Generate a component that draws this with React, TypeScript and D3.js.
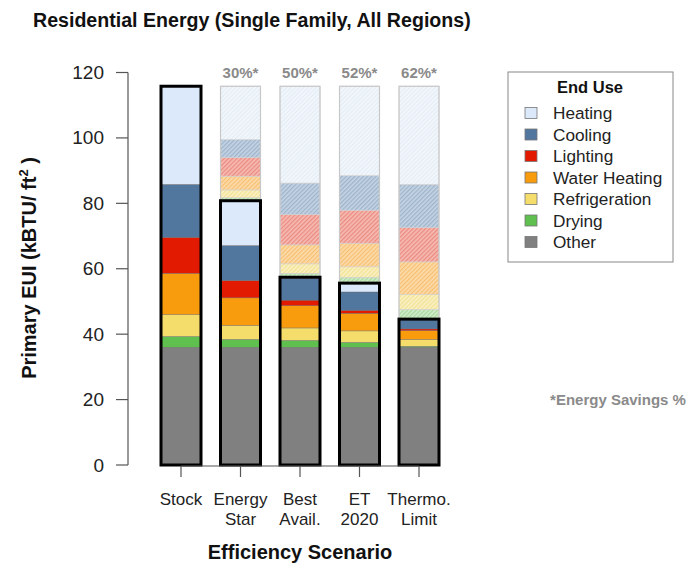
import React from 'react';
import * as d3 from 'd3';

// end-use categories, top of the stack first (legend order)
const categories = ['Heating', 'Cooling', 'Lighting', 'Water Heating', 'Refrigeration', 'Drying', 'Other'];
const solidColors = ['#dbe9fb', '#52779f', '#e31a02', '#f89c0e', '#f5dd6b', '#5fbf4f', '#808080'];
const ghostBg = ['#f4f8fc', '#c6d4e3', '#f5bdb5', '#fcdcae', '#faf1c6', '#d3ecce', '#cccccc'];
const ghostStripe = ['#e3ecf5', '#9db4cc', '#ec8a7f', '#f8c070', '#f2e293', '#a6d89b', '#aaaaaa'];

const scenarios = ['Stock', 'Energy Star', 'Best Avail.', 'ET 2020', 'Thermo. Limit'];
const scenarioLines = [['Stock'], ['Energy', 'Star'], ['Best', 'Avail.'], ['ET', '2020'], ['Thermo.', 'Limit']];

// kBTU/ft2 per scenario
const heating = [30, 13.7, 0.4, 2.7, 0];
const cooling = [16.2, 10.7, 6.6, 5.6, 3.0];
const lighting = [11, 5.3, 1.7, 0.9, 0.5];
const waterHeating = [12.6, 8.4, 6.8, 5.4, 2.7];
const refrigeration = [6.7, 4.3, 3.8, 3.5, 2.1];
const drying = [3.3, 2.4, 2.1, 1.5, 0.3];
const other = [36, 36, 36, 36, 36];

const savingsLabels = ['', '30%*', '50%*', '52%*', '62%*'];
const yTicks = [0, 20, 40, 60, 80, 100, 120];

const series = [heating, cooling, lighting, waterHeating, refrigeration, drying, other];
const FONT = '"Liberation Sans", Arial, Helvetica, sans-serif';

const App = () => {
  const width = 699;
  const height = 577;
  const barW = 40;

  const y = d3.scaleLinear().domain([0, 120]).range([465, 72.5]);
  const x = d3.scalePoint<string>().domain(scenarios).range([181, 419]);

  // bottom-up order for stacking
  const order = d3.range(categories.length).reverse();
  const rows = scenarios.map((s, j) => {
    const r: any = { scenario: s };
    categories.forEach((c, i) => { r[c] = series[i][j]; });
    return r;
  });
  const stack = d3.stack<any>().keys(order.map(i => categories[i]));
  const stacked = stack(rows);
  const totals = scenarios.map((_, j) => d3.sum(series, s => s[j]));

  // savings (stock minus scenario) stacked above each scenario total
  const ghosts = scenarios.map((_, j) => {
    if (j === 0) return [];
    let base = totals[j];
    return order.map(i => {
      const v = series[i][0] - series[i][j];
      const seg = { i, y0: base, y1: base + v };
      base += v;
      return seg;
    }).filter(g => g.y1 - g.y0 > 0.01);
  });

  return (
    <svg width={width} height={height} style={{ position: 'absolute', left: 0, top: 0, background: '#fff' }} fontFamily={FONT}>
      <defs>
        {categories.map((c, i) => (
          <pattern key={c} id={`hatch-${i}`} patternUnits="userSpaceOnUse" width={3} height={3} patternTransform="rotate(45)">
            <rect width={3} height={3} fill={ghostBg[i]} />
            <rect width={1.3} height={3} fill={ghostStripe[i]} />
          </pattern>
        ))}
      </defs>

      <text x={33} y={27} fontSize={19.6} fontWeight="bold" fill="#111">
        Residential Energy (Single Family, All Regions)
      </text>

      {/* ghost bars: savings relative to stock */}
      {scenarios.map((s, j) => j === 0 ? null : (
        <g key={`g-${s}`}>
          {ghosts[j].map(g => (
            <rect key={g.i} x={x(s)! - barW / 2} y={y(g.y1)} width={barW} height={y(g.y0) - y(g.y1)}
              fill={`url(#hatch-${g.i})`} stroke="#d0d0d0" strokeWidth={0.6} />
          ))}
          <rect x={x(s)! - barW / 2} y={y(totals[0])} width={barW} height={y(totals[j]) - y(totals[0])}
            fill="none" stroke="#c8c8c8" strokeWidth={1.2} />
        </g>
      ))}

      {/* solid stacked bars */}
      {stacked.map(layer => {
        const ci = categories.indexOf(layer.key);
        return (
          <g key={layer.key}>
            {layer.map((d, j) => d[1] - d[0] > 0.01 ? (
              <rect key={j} x={x(scenarios[j])! - barW / 2} y={y(d[1])} width={barW} height={y(d[0]) - y(d[1])}
                fill={solidColors[ci]} stroke="#6a6a6a" strokeWidth={0.4} />
            ) : null)}
          </g>
        );
      })}
      {scenarios.map((s, j) => (
        <rect key={`o-${s}`} x={x(s)! - barW / 2} y={y(totals[j])} width={barW} height={y(0) - y(totals[j])}
          fill="none" stroke="#000" strokeWidth={3} />
      ))}

      {/* savings labels */}
      {scenarios.map((s, j) => (
        <text key={`p-${s}`} x={x(s)} y={78} textAnchor="middle" fontSize={15} fontWeight="bold" fill="#8a8a8a">
          {savingsLabels[j]}
        </text>
      ))}

      {/* y axis */}
      <g stroke="#555" strokeWidth={1.2}>
        <line x1={128} x2={128} y1={y(0)} y2={y(120)} />
        {yTicks.map(t => <line key={t} x1={116} x2={128} y1={y(t)} y2={y(t)} />)}
      </g>
      {yTicks.map(t => (
        <text key={t} x={104} y={y(t) + 6.5} textAnchor="end" fontSize={19} fill="#222">{t}</text>
      ))}
      <text transform="translate(36,268) rotate(-90)" textAnchor="middle" fontSize={20} fontWeight="bold" fill="#111">
        Primary EUI (kBTU/ ft<tspan fontSize={13} dy={-8}>2</tspan><tspan dy={8}> )</tspan>
      </text>

      {/* x axis */}
      <g stroke="#555" strokeWidth={1.2}>
        <line x1={x(scenarios[0])} x2={x(scenarios[scenarios.length - 1])} y1={466} y2={466} />
        {scenarios.map(s => <line key={s} x1={x(s)} x2={x(s)} y1={466} y2={477} />)}
      </g>
      {scenarios.map((s, j) => (
        <text key={`xl-${s}`} x={x(s)} textAnchor="middle" fontSize={17} fill="#222">
          {scenarioLines[j].map((l, k) => (
            <tspan key={k} x={x(s)} y={505 + k * 20}>{l}</tspan>
          ))}
        </text>
      ))}
      <text x={300} y={559} textAnchor="middle" fontSize={20} fontWeight="bold" fill="#111">Efficiency Scenario</text>

      {/* legend */}
      <rect x={508} y={72} width={165} height={190} fill="#fff" stroke="#888" strokeWidth={1} />
      <text x={590} y={93} textAnchor="middle" fontSize={16.5} fontWeight="bold" fill="#111">End Use</text>
      {categories.map((c, i) => (
        <g key={c} transform={`translate(0,${113 + i * 21.5})`}>
          <rect x={525} y={-5.5} width={12} height={11} fill={solidColors[i]} stroke="#777" strokeWidth={0.8} />
          <text x={553} y={6} fontSize={17.2} fill="#222">{c}</text>
        </g>
      ))}

      <text x={618} y={405} textAnchor="middle" fontSize={15} fontWeight="bold" fill="#8a8a8a">*Energy Savings %</text>
    </svg>
  );
};

export default App;
